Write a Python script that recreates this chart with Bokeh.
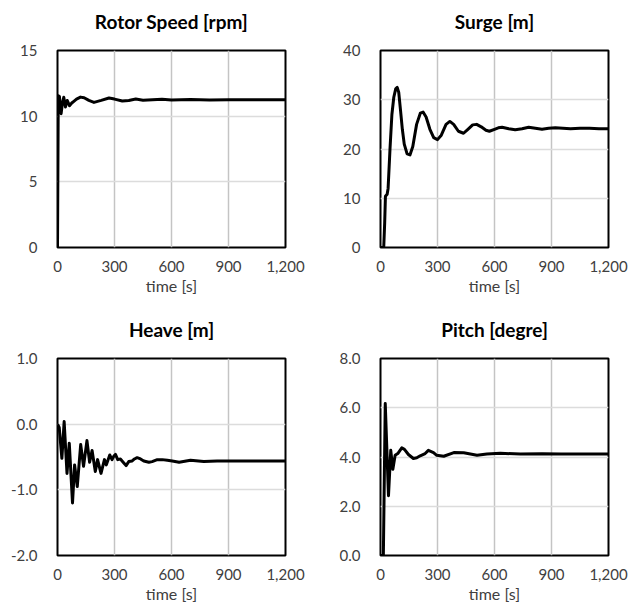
from bokeh.plotting import figure
from bokeh.layouts import column, row
from bokeh.models import Range1d, FixedTicker, NumeralTickFormatter, Title
from bokeh.embed import file_html
from bokeh.resources import INLINE

# ---- data ----
x_ticks = [0, 300, 600, 900, 1200]

rotor_t = [0, 4, 10, 19, 26, 33, 42, 51, 63, 75, 86, 100, 121, 140, 165, 192, 230,
           271, 300, 341, 375, 412, 450, 500, 550, 600, 700, 800, 900, 1000, 1100, 1200]
rotor_v = [0, 11.56, 11.5, 10.19, 11.0, 11.44, 10.7, 11.2, 10.8, 11.0, 11.13, 11.3, 11.45,
           11.4, 11.2, 11.05, 11.2, 11.38, 11.3, 11.15, 11.2, 11.3, 11.22, 11.25, 11.28,
           11.24, 11.26, 11.24, 11.25, 11.25, 11.25, 11.25]

surge_t = [0, 17, 22, 26, 35, 40, 50, 60, 70, 80, 88, 96, 105, 115, 125, 140, 155, 170,
           190, 210, 224, 240, 260, 280, 300, 320, 345, 365, 385, 410, 437, 460, 485, 506,
           530, 555, 573, 600, 620, 640, 675, 709, 745, 780, 815, 850, 885, 920, 960, 1000,
           1050, 1100, 1150, 1200]
surge_v = [0, 0, 5, 10.4, 10.8, 12, 20, 27, 30.5, 32.2, 32.5, 31.5, 28, 24, 21, 19.0, 18.8,
           20.5, 25, 27.3, 27.5, 26.5, 24, 22.3, 21.9, 22.8, 25, 25.6, 25, 23.6, 23.2, 24,
           24.9, 25.0, 24.5, 23.8, 23.6, 24, 24.3, 24.4, 24.1, 23.9, 24.1, 24.4, 24.2, 24.0,
           24.2, 24.3, 24.2, 24.1, 24.2, 24.2, 24.1, 24.1]

heave_t = [0, 9, 23, 35, 50, 62, 79, 90, 104, 122, 137, 155, 169, 182, 199, 211, 229, 247,
           257, 275, 287, 296, 305, 317, 331, 349, 361, 375, 393, 405, 419, 437, 454, 481,
           498, 525, 551, 578, 604, 640, 700, 770, 840, 900, 1000, 1100, 1200]
heave_v = [0, -0.05, -0.52, 0.04, -0.75, -0.29, -1.2, -0.62, -0.95, -0.31, -0.64, -0.25,
           -0.58, -0.40, -0.72, -0.54, -0.75, -0.54, -0.62, -0.47, -0.54, -0.49, -0.46,
           -0.54, -0.53, -0.59, -0.63, -0.57, -0.56, -0.53, -0.51, -0.53, -0.56, -0.58,
           -0.57, -0.54, -0.54, -0.55, -0.56, -0.58, -0.55, -0.57, -0.56, -0.56, -0.56,
           -0.56, -0.56]

pitch_t = [0, 15, 25, 42, 54, 65, 77, 91, 112, 126, 147, 173, 191, 209, 235, 252, 279, 296,
           333, 386, 438, 508, 560, 631, 736, 850, 950, 1050, 1200]
pitch_v = [0, 0, 6.17, 2.43, 4.27, 3.5, 4.07, 4.14, 4.37, 4.31, 4.10, 3.94, 3.97, 4.05,
           4.14, 4.27, 4.18, 4.07, 4.03, 4.18, 4.17, 4.07, 4.12, 4.15, 4.12, 4.13, 4.12,
           4.12, 4.12]

FONT = "Lato"
TXT = "#404040"


def panel(title, t, v, yr, yticks, yfmt, left_b, right_b, top_b, bottom_b):
    p = figure(frame_width=228, frame_height=197,
               x_range=Range1d(0, 1200), y_range=Range1d(*yr),
               output_backend="svg", toolbar_location=None, title=None,
               min_border_left=left_b, min_border_right=right_b,
               min_border_top=top_b, min_border_bottom=bottom_b,
               background_fill_color="white", border_fill_color="white")
    spacer = Title(text=" ", text_font=FONT, text_font_size="13px", standoff=0)
    main = Title(text=title, text_font=FONT, text_font_size="19px",
                 text_font_style="bold", text_color="black", align="center", standoff=0)
    p.add_layout(spacer, "above")
    p.add_layout(main, "above")

    p.outline_line_color = "black"
    p.outline_line_width = 2
    p.outline_line_alpha = 1.0

    p.xaxis.ticker = FixedTicker(ticks=x_ticks)
    p.yaxis.ticker = FixedTicker(ticks=yticks)
    p.xaxis.formatter = NumeralTickFormatter(format="0,0")
    p.yaxis.formatter = NumeralTickFormatter(format=yfmt)
    p.xaxis.axis_label = "time [s]"
    for ax in (p.xaxis, p.yaxis):
        ax.axis_line_color = None
        ax.major_tick_line_color = None
        ax.minor_tick_line_color = None
        ax.major_tick_out = 0
        ax.major_tick_in = 0
        ax.major_label_text_font = FONT
        ax.major_label_text_font_size = "15px"
        ax.major_label_text_color = TXT
        ax.axis_label_text_font = FONT
        ax.axis_label_text_font_size = "16px"
        ax.axis_label_text_font_style = "normal"
        ax.axis_label_text_color = TXT
    p.xaxis.major_label_standoff = 13
    p.xaxis.axis_label_standoff = 1
    p.yaxis.major_label_standoff = 20

    p.xgrid.ticker = FixedTicker(ticks=x_ticks)
    p.ygrid.ticker = FixedTicker(ticks=yticks)
    p.xgrid.grid_line_color = "#c4c4c4"
    p.xgrid.grid_line_width = 1.5
    p.ygrid.grid_line_color = "#dcdcdc"
    p.ygrid.grid_line_width = 1.5

    p.line(t, v, line_color="black", line_width=3, line_join="round")
    return p


p1 = panel("Rotor Speed [rpm]", rotor_t, rotor_v, (0, 15), [0, 5, 10, 15], "0", 57, 46, 50, 68)
p2 = panel("Surge [m]", surge_t, surge_v, (0, 40), [0, 10, 20, 30, 40], "0", 49, 24, 50, 68)
p3 = panel("Heave [m]", heave_t, heave_v, (-2, 1), [-2, -1, 0, 1], "0.0", 57, 46, 42, 44)
p4 = panel("Pitch [degre]", pitch_t, pitch_v, (0, 8), [0, 2, 4, 6, 8], "0.0", 49, 24, 42, 44)

layout = column(row(p1, p2), row(p3, p4))

with open("out.html", "w") as f:
    f.write(file_html(layout, INLINE))
